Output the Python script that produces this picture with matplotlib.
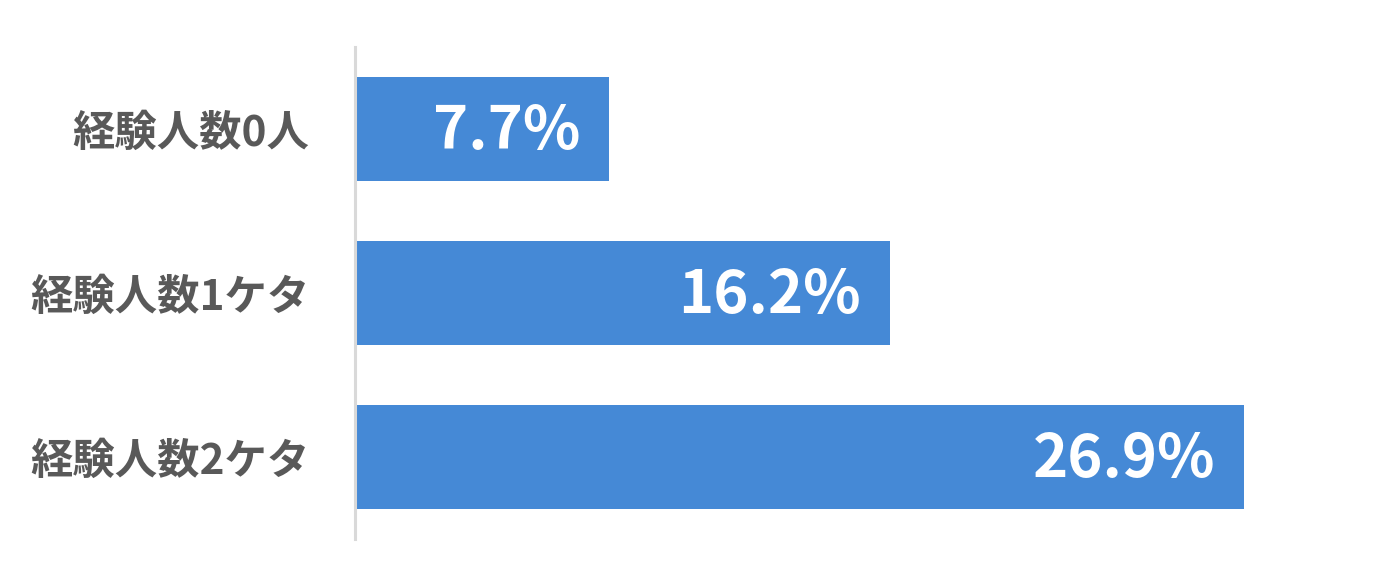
import matplotlib.pyplot as plt

plt.rcParams['font.family'] = ['Noto Sans CJK JP', 'DejaVu Sans']

categories = ['経験人数0人', '経験人数1ケタ', '経験人数2ケタ']
values = [7.7, 16.2, 26.9]
value_labels = ['7.7%', '16.2%', '26.9%']

W, H = 1396, 586
fig = plt.figure(figsize=(W / 100, H / 100), dpi=100)
left = 355 / W
right = (355 + 30 * 33.05) / W
bottom = (H - 539) / H
top = (H - 47) / H
ax = fig.add_axes([left, bottom, right - left, top - bottom])

ypos = list(range(len(categories)))
ax.barh(ypos, values, height=0.63, color='#4589D6', edgecolor='none', zorder=2)
ax.set_xlim(0, 30)
ax.set_ylim(len(categories) - 0.5, -0.5)

for y, v, lab in zip(ypos, values, value_labels):
    ax.annotate(lab, xy=(v, y), xytext=(-21, -2), textcoords='offset points',
                ha='right', va='center', color='white', fontsize=43,
                fontweight='bold')

ax.set_yticks(ypos)
ax.set_yticklabels(categories, fontsize=30.5, fontweight='bold', color='#595959')
ax.tick_params(axis='y', length=0, pad=33)
ax.set_xticks([])
for s in ['top', 'right', 'bottom']:
    ax.spines[s].set_visible(False)
ax.spines['left'].set_color('#D9D9D9')
ax.spines['left'].set_linewidth(2.2)
ax.spines['left'].set_zorder(3)

fig.savefig('out.png', dpi=100, facecolor='white')
